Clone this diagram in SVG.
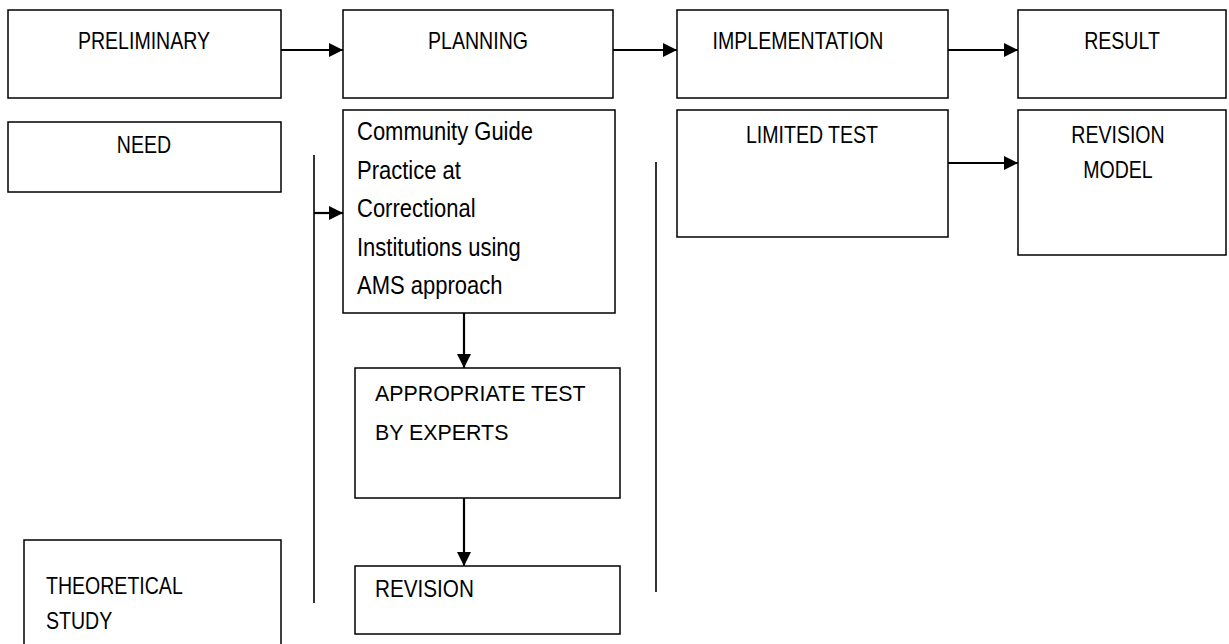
<svg xmlns="http://www.w3.org/2000/svg" width="1229" height="644" viewBox="0 0 1229 644">
  <style>
    .box { fill: #fff; stroke: #000; stroke-width: 1.5; }
    .lbl { font-family: "Liberation Sans", Arial, sans-serif; font-size: 23px; fill: #000; }
    .big { font-size: 25px; }
    .mid { text-anchor: middle; }
    .edge { stroke: #000; stroke-width: 2.2; fill: none; }
    .rule { stroke: #000; stroke-width: 1.6; fill: none; }
  </style>
  <defs>
    <marker id="arrow" markerWidth="14" markerHeight="14" refX="14" refY="7" orient="auto" markerUnits="userSpaceOnUse" viewBox="0 0 14 14">
      <path d="M0,0 L14,7 L0,14 Z" fill="#000"/>
    </marker>
    <clipPath id="guide-clip"><rect x="343" y="110" width="272" height="203"/></clipPath>
  </defs>

  <rect width="1229" height="644" fill="#fff"/>

  <!-- stage row (labels set in a narrow cut: horizontally condensed) -->
  <g id="preliminary"><rect class="box" x="8" y="10" width="273" height="88"/><text class="lbl mid" transform="translate(144 49) scale(0.85 1)">PRELIMINARY</text></g>
  <g id="planning"><rect class="box" x="343" y="10" width="270" height="88"/><text class="lbl mid" transform="translate(478 49) scale(0.85 1)">PLANNING</text></g>
  <g id="implementation"><rect class="box" x="677" y="10" width="271" height="88"/><text class="lbl mid" transform="translate(798 49) scale(0.85 1)">IMPLEMENTATION</text></g>
  <g id="result"><rect class="box" x="1018" y="10" width="208" height="88"/><text class="lbl mid" transform="translate(1122 49) scale(0.85 1)">RESULT</text></g>

  <!-- preliminary column -->
  <g id="need"><rect class="box" x="8" y="122" width="273" height="70"/><text class="lbl mid" transform="translate(144 153) scale(0.85 1)">NEED</text></g>
  <g id="theoretical-study"><rect class="box" x="24" y="540" width="257" height="110"/>
    <text class="lbl" transform="translate(46 594) scale(0.85 1)">THEORETICAL</text>
    <text class="lbl" transform="translate(46 629) scale(0.85 1)">STUDY</text></g>

  <!-- planning column -->
  <g id="community-guide"><rect class="box" x="343" y="110" width="272" height="203"/>
    <g clip-path="url(#guide-clip)">
      <text class="lbl big" transform="translate(357 140) scale(0.88 1)">Community Guide</text>
      <text class="lbl big" transform="translate(357 178.5) scale(0.88 1)">Practice at</text>
      <text class="lbl big" transform="translate(357 217) scale(0.88 1)">Correctional</text>
      <text class="lbl big" transform="translate(357 255.5) scale(0.88 1)">Institutions using</text>
      <text class="lbl big" transform="translate(357 294) scale(0.88 1)">AMS approach</text>
    </g></g>
  <g id="appropriate-test"><rect class="box" x="355" y="368" width="265" height="130"/>
    <text class="lbl" transform="translate(375 401) scale(0.93 1)">APPROPRIATE TEST</text>
    <text class="lbl" transform="translate(375 440) scale(0.93 1)">BY EXPERTS</text></g>
  <g id="revision"><rect class="box" x="355" y="566" width="265" height="68"/>
    <text class="lbl" transform="translate(375 597) scale(0.9 1)">REVISION</text></g>

  <!-- implementation / result column -->
  <g id="limited-test"><rect class="box" x="677" y="110" width="271" height="127"/>
    <text class="lbl mid" transform="translate(812 143) scale(0.85 1)">LIMITED TEST</text></g>
  <g id="revision-model"><rect class="box" x="1018" y="110" width="208" height="145"/>
    <text class="lbl mid" transform="translate(1118 143) scale(0.85 1)">REVISION</text>
    <text class="lbl mid" transform="translate(1118 178) scale(0.85 1)">MODEL</text></g>

  <g id="connectors">
    <line class="edge" x1="281" y1="50" x2="343" y2="50" marker-end="url(#arrow)"/>
    <line class="edge" x1="613" y1="50" x2="677" y2="50" marker-end="url(#arrow)"/>
    <line class="edge" x1="948" y1="50" x2="1018" y2="50" marker-end="url(#arrow)"/>
    <line class="rule" x1="314" y1="155" x2="314" y2="603"/>
    <line class="edge" x1="314" y1="213" x2="343" y2="213" marker-end="url(#arrow)"/>
    <line class="edge" x1="464" y1="313" x2="464" y2="368" marker-end="url(#arrow)"/>
    <line class="edge" x1="464" y1="498" x2="464" y2="566" marker-end="url(#arrow)"/>
    <line class="rule" x1="656" y1="162" x2="656" y2="592"/>
    <line class="edge" x1="948" y1="163" x2="1018" y2="163" marker-end="url(#arrow)"/>
  </g>
</svg>
